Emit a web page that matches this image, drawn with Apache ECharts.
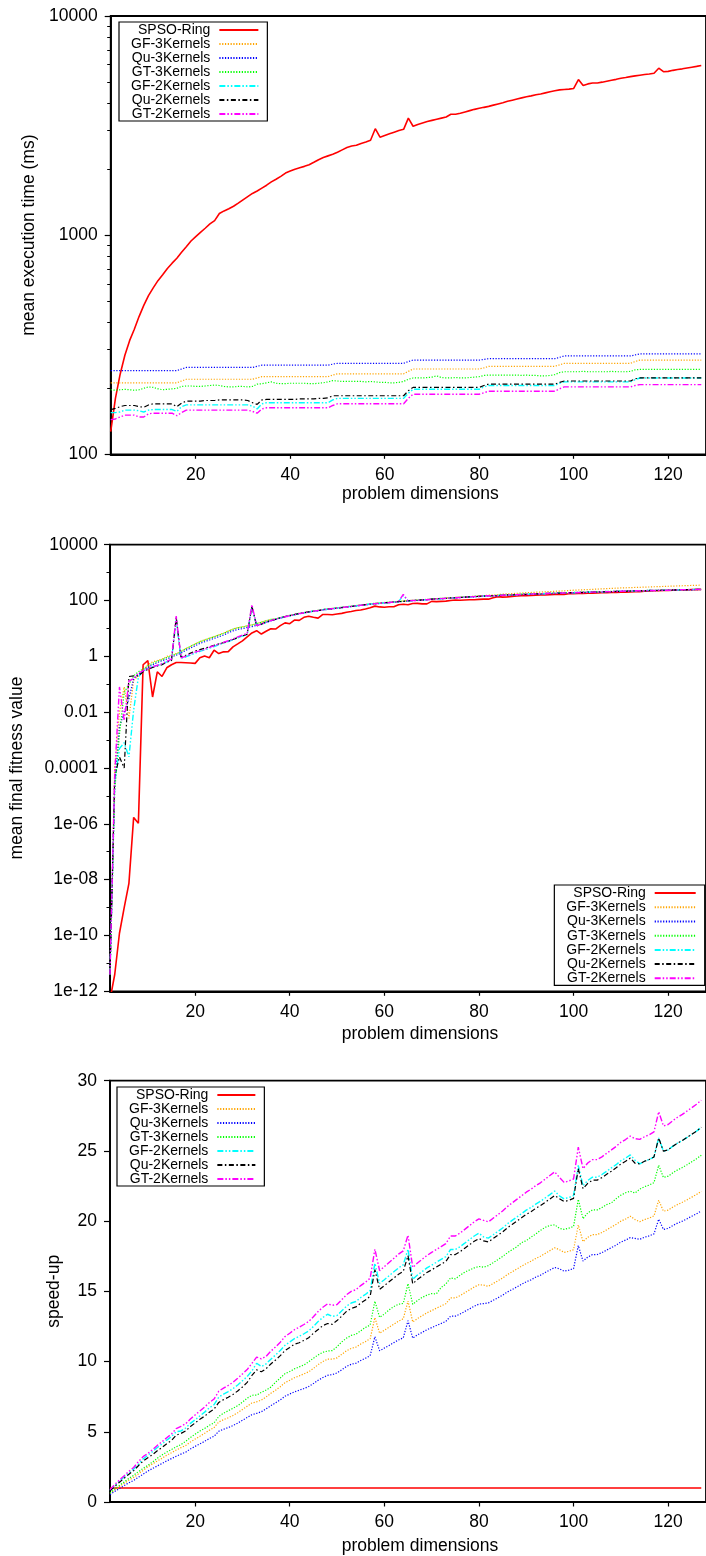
<!DOCTYPE html>
<html>
<head>
<meta charset="utf-8">
<script src="https://cdn.jsdelivr.net/npm/echarts@6/dist/echarts.min.js"></script>
<style>
  html, body { margin: 0; padding: 0; background: #fff; }
  #chart { width: 706px; height: 1556px; }
</style>
</head>
<body>
<div id="chart"></div>
<script>
// Problem dimensions on the x axis of all three panels
const dims = [2,3,4,5,6,7,8,9,10,11,12,13,14,15,16,17,18,19,20,21,22,23,24,25,26,27,28,29,30,31,32,33,34,35,36,37,38,39,40,41,42,43,44,45,46,47,48,49,50,51,52,53,54,55,56,57,58,59,60,61,62,63,64,65,66,67,68,69,70,71,72,73,74,75,76,77,78,79,80,81,82,83,84,85,86,87,88,89,90,91,92,93,94,95,96,97,98,99,100,101,102,103,104,105,106,107,108,109,110,111,112,113,114,115,116,117,118,119,120,121,122,123,124,125,126,127];

const seriesNames = ['SPSO-Ring','GF-3Kernels','Qu-3Kernels','GT-3Kernels','GF-2Kernels','Qu-2Kernels','GT-2Kernels'];

// Tick values and labels
const xTicks = [20, 40, 60, 80, 100, 120];
const timeTicks = [100, 1000, 10000];
const timeTickLabels = ['100', '1000', '10000'];
const timeMinorTicks = [200,300,400,500,600,700,800,900,2000,3000,4000,5000,6000,7000,8000,9000];
const fitTicks = [1e-12, 1e-10, 1e-8, 1e-6, 1e-4, 1e-2, 1, 100, 10000];
const fitTickLabels = ['1e-12', '1e-10', '1e-08', '1e-06', '0.0001', '0.01', '1', '100', '10000'];
const fitMinorTicks = [1e-11, 1e-9, 1e-7, 1e-5, 1e-3, 0.1, 10, 1000];

// ---- Mean execution time (ms) ----
const ringTime = [
  127,180,232,283,330,372,425,478,530,575,
  620,660,705,745,785,835,885,940,985,1030,
  1075,1125,1165,1255,1290,1320,1355,1400,1450,1500,
  1550,1590,1640,1690,1750,1800,1855,1920,1960,2000,
  2030,2060,2095,2150,2210,2260,2300,2340,2390,2450,
  2510,2550,2570,2620,2660,2710,3060,2800,2850,2900,
  2950,3000,3040,3420,3140,3200,3250,3300,3340,3380,
  3420,3460,3560,3560,3600,3650,3700,3750,3790,3830,
  3870,3920,3970,4020,4080,4130,4180,4230,4280,4320,
  4370,4410,4460,4510,4560,4600,4620,4640,4670,5130,
  4820,4900,4950,4950,4990,5040,5090,5140,5200,5240,
  5290,5330,5370,5410,5440,5480,5780,5570,5590,5650,
  5700,5740,5790,5840,5890,5950];
const gf3Time = [
  212,212,212,212,212,212,212,212,212,212,
  212,212,212,212,212,216,220,220,220,220,
  220,220,220,220,220,220,220,220,220,220,
  220,223,226,226,226,226,226,226,226,226,
  226,226,226,226,226,226,226,230,233,233,
  233,233,233,233,233,233,233,233,233,233,
  233,233,233,239,245,245,245,245,245,245,
  245,245,245,245,245,245,245,245,245,248,
  252,252,252,252,252,252,252,252,252,252,
  252,252,252,252,252,256,260,260,260,260,
  260,260,260,260,260,260,260,260,260,260,
  260,265,269,269,269,269,269,269,269,269,
  269,269,269,269,269,269];
const qu3Time = [
  241,241,241,241,241,241,241,241,241,241,
  241,241,241,241,241,245,249,249,249,249,
  249,249,249,249,249,249,249,249,249,249,
  249,252,255,255,255,255,255,255,255,255,
  255,255,255,255,255,255,255,258,260,260,
  260,260,260,260,260,260,260,260,260,260,
  260,260,260,265,269,269,269,269,269,269,
  269,269,269,269,269,269,269,269,269,271,
  273,273,273,273,273,273,273,273,273,273,
  273,273,273,273,273,277,281,281,281,281,
  281,281,281,281,281,281,281,281,281,281,
  281,284,287,287,287,287,287,287,287,287,
  287,287,287,287,287,287];
const gt3Time = [
  197,196,197,198,197,196,197,200,203,202,
  199,197,198,199,200,204,205,205,204,204,
  205,206,207,206,204,203,203,204,204,203,
  204,209,210,212,214,211,210,210,211,211,
  211,211,210,210,211,212,214,217,216,215,
  215,215,215,215,214,215,214,213,213,212,
  212,213,215,220,223,223,223,224,225,228,
  224,223,223,224,223,223,224,225,226,229,
  230,230,230,230,230,230,230,229,230,229,
  229,228,228,229,231,236,238,238,238,238,
  239,238,238,238,238,238,239,238,238,238,
  239,243,244,244,244,244,244,244,244,244,
  244,244,244,244,244,244];
const gf2Time = [
  155,155,156,159,159,159,158,156,159,160,
  160,160,160,160,157,165,168,168,168,168,
  168,168,168,168,168,168,168,168,168,168,
  166,161,170,172,172,172,172,172,172,172,
  172,172,172,172,172,172,172,177,180,180,
  180,180,180,180,180,180,180,180,180,180,
  180,180,180,190,198,198,198,198,198,198,
  198,198,198,198,198,198,198,198,198,203,
  206,206,206,206,206,206,206,206,206,206,
  206,206,206,206,206,211,214,214,214,214,
  214,214,214,214,214,214,214,214,214,214,
  214,219,223,223,223,223,223,223,223,223,
  223,223,223,223,223,223];
const qu2Time = [
  160,162,165,167,167,167,165,164,168,170,
  170,170,170,170,165,171,175,175,175,175,
  176,176,176,177,177,177,177,177,177,176,
  172,169,177,178,178,178,178,178,178,178,
  179,179,179,179,180,180,181,185,185,185,
  185,185,185,185,185,185,185,185,185,185,
  185,185,185,195,202,202,202,202,202,202,
  202,202,202,202,202,202,202,202,202,206,
  209,209,209,209,209,209,209,209,209,209,
  209,209,209,209,209,213,216,216,216,216,
  216,216,216,216,216,216,216,216,216,216,
  216,221,223,223,223,223,223,223,223,223,
  223,223,223,223,223,223];
const gt2Time = [
  144,145,148,151,151,151,148,148,153,154,
  154,154,154,154,150,155,159,159,159,159,
  159,159,159,159,159,159,159,159,159,159,
  157,154,161,163,163,163,163,163,163,163,
  163,163,163,163,163,163,163,167,170,170,
  170,170,170,170,170,170,170,170,170,170,
  170,170,170,180,188,188,188,188,188,188,
  188,188,188,188,188,188,188,188,188,191,
  194,194,194,194,194,194,194,194,194,194,
  194,194,194,194,194,199,203,203,203,203,
  203,203,203,203,203,203,203,203,203,203,
  203,206,208,208,208,208,208,208,208,208,
  208,208,208,208,208,208];

// ---- Mean final fitness value ----
const ringFit = [
  5e-13,4e-12,1.2e-10,1e-9,7.4e-9,1.7e-6,1.05e-6,0.5,0.7,0.035,
  0.28,0.19,0.39,0.5,0.6,0.6,0.59,0.58,0.56,0.89,
  1.02,0.89,1.66,1.26,1.45,1.48,2.19,2.8,3.6,5.0,
  6.9,8.3,6.3,7.9,9.8,9.5,12.6,15.8,14.8,20,
  19.5,25,27.5,25,23.4,31.6,31.6,30.9,33.1,34.7,
  38,40.7,43.7,45.7,50,55,63,59,57.5,60,
  60,71,74,71,78,79,76,76,93,91,
  93,95,100,105,102,105,107,107,110,112,
  112,126,138,132,135,141,145,148,148,151,
  155,158,158,162,166,170,166,174,174,178,
  178,182,182,186,191,191,195,195,200,200,
  204,209,209,214,214,224,224,229,229,234,
  234,240,240,245,245,251];
const gf3Fit = [
  4e-12,1e-4,0.01,0.08,0.006,0.14,0.2,0.32,0.5,0.63,
  0.71,0.79,1.0,1.12,1.26,1.5,1.9,2.3,2.8,3.4,
  3.9,4.5,5.1,5.9,6.8,8.1,9.5,10.7,11.5,12.5,
  13.4,15,16.8,18.9,21,22,24.5,27,29.5,32,
  34.5,37,39.5,42,44.5,47.5,50,52,54.5,57,
  60,62.5,65.5,68.5,72,75,78.5,81,84,87,
  90,93,96,99,102,105,108,110,114,117,
  120,123,126,129,132,135,138,142,148,151,
  155,158,162,170,173,177,181,185,191,194,
  198,201,205,209,214,218,222,228,234,238,
  242,247,251,257,262,267,272,277,282,286,
  290,294,298,302,306,311,315,320,324,329,
  333,338,342,347,351,355];
const qu3Fit = [
  4e-12,2.5e-5,3e-3,0.01,0.03,0.16,0.22,0.3,0.4,0.5,
  0.6,0.7,0.8,0.95,1.1,1.3,1.64,1.97,2.42,2.9,
  3.34,3.84,4.4,5.06,5.8,7.0,8.2,9.2,9.8,10.8,
  11.6,13,14.5,16.4,18.4,21,23.5,25.8,28.2,31,
  33.2,35.6,38.1,40.9,42.8,45.9,48,50.3,52.6,55.1,
  57.7,60.5,63.3,66.2,69.4,72.6,76,77.8,81.5,83.4,
  87.3,89.4,92.2,95.7,98,100,103,105,110,113,
  115,118,121,124,127,130,133,136,139,142,
  145,145,148,152,155,155,159,163,163,167,
  170,170,174,178,178,182,182,187,187,191,
  191,196,196,200,200,205,205,210,210,215,
  215,220,220,220,224,224,229,229,229,235,
  235,240,240,240,246,246];
const gt3Fit = [
  4e-12,1.6e-5,1.6e-3,0.05,0.1,0.2,0.28,0.35,0.45,0.56,
  0.66,0.76,0.9,1.05,1.2,1.48,1.87,2.25,2.76,3.3,
  3.8,4.4,5.0,5.8,6.6,8.0,9.4,10.5,11.2,12.3,
  13.2,14.8,16.6,18.7,21,21.8,24.5,26.8,29.4,32.2,
  34.6,37,39.7,42.5,44.6,47.7,50,52.3,54.8,57.3,
  60,62.9,65.9,69,72.2,75.6,79.2,81,84.9,86.8,
  90.9,93,95.9,99.6,102,104,107,109,114,117,
  119,122,125,128,131,134,137,140,143,147,
  150,150,154,158,161,161,165,169,169,173,
  177,177,181,185,185,189,189,194,194,198,
  198,203,203,207,207,212,212,217,217,222,
  222,227,227,227,232,232,237,237,237,243,
  243,248,248,248,254,254];
const gf2Fit = [
  4e-12,3e-5,5e-4,8e-4,2.5e-4,0.012,0.18,0.3,0.36,0.42,
  0.47,0.53,0.64,0.75,20,0.85,0.95,1.12,1.3,1.5,
  1.7,1.95,2.25,2.6,3.0,3.4,3.9,4.6,5.3,6.1,
  56,12.9,13.9,16.4,19.4,21.6,23.7,26.5,29.1,31.2,
  33.6,36.8,38.5,42.1,43.3,47.2,48.6,51.8,53.2,56.8,
  58.4,62.3,64,68.2,70.1,74.7,77,80.1,82.5,85.8,
  88.3,92,150,98.5,99.2,103,104.2,108,111,116,
  116,121,122,127,128,133,134,139,140,146,
  147,149,150,156,157,159,161,167,165,171,
  173,175,177,183,181,187,185,192,190,196,
  194,201,199,205,203,210,208,215,213,220,
  218,225,223,225,228,230,233,235,233,241,
  239,246,244,246,250,252];
const qu2Fit = [
  4e-12,5e-5,2.5e-4,1e-4,0.19,0.2,0.2,0.28,0.34,0.4,
  0.45,0.5,0.62,0.7,25,0.95,1.1,1.3,1.55,1.75,
  1.95,2.2,2.5,2.8,3.1,3.5,4.0,4.7,5.4,6.2,
  63,12.3,14.3,16.9,19.1,21.1,24.2,26.6,28.5,31.3,
  34.2,36,39.3,41.3,44,46.5,49.5,51,54,55.8,
  59.3,61.2,65,67.1,71.2,73.6,78,79,83.6,84.6,
  89.5,90.7,93.3,97.2,100.5,101.5,105.5,106.5,112.5,114.5,
  117.5,119.5,123.5,125.5,129.5,131.5,135.5,137.5,141.5,144.5,
  148.5,147.5,151.5,154.5,158.5,157.5,162.5,165.5,166.5,169.5,
  174.5,173.5,178.5,181.5,182.5,185.5,186.5,190.5,191.5,194.5,
  195.5,199.5,200.5,203.5,204.5,208.5,209.5,213.5,214.5,218.5,
  219.5,223.5,224.5,223.5,229.5,228.5,234.5,233.5,234.5,239.5,
  240.5,244.5,245.5,244.5,251.5,250.5];
const gt2Fit = [
  4e-12,6e-5,0.08,0.005,0.13,0.16,0.25,0.3,0.36,0.42,
  0.48,0.55,0.66,0.8,28,0.89,1.0,1.2,1.41,1.58,
  1.78,2.09,2.4,2.75,3.16,3.63,4.17,5.0,5.75,6.6,
  71,12.6,14.1,16.6,19.1,21.4,24,26.3,28.8,31.6,
  33.9,36.3,38.9,41.7,43.7,46.8,49,51.3,53.7,56.2,
  58.9,61.7,64.6,67.6,70.8,74.1,77.6,79.4,83.2,85.1,
  89.1,91.2,166,97.7,100,102,105,107,112,115,
  117,120,123,126,129,132,135,138,141,145,
  148,148,151,155,158,158,162,166,166,170,
  174,174,178,182,182,186,186,191,191,195,
  195,200,200,204,204,209,209,214,214,219,
  219,224,224,224,229,229,234,234,234,240,
  240,245,245,245,251,251];

// ---- Speed-up ----
const ringSpeed = [
  1,1,1,1,1,1,1,1,1,1, 1,1,1,1,1,1,1,1,1,1, 1,1,1,1,1,1,1,1,1,1,
  1,1,1,1,1,1,1,1,1,1, 1,1,1,1,1,1,1,1,1,1, 1,1,1,1,1,1,1,1,1,1,
  1,1,1,1,1,1,1,1,1,1, 1,1,1,1,1,1,1,1,1,1, 1,1,1,1,1,1,1,1,1,1,
  1,1,1,1,1,1,1,1,1,1, 1,1,1,1,1,1,1,1,1,1, 1,1,1,1,1,1,1,1,1,1,
  1,1,1,1,1,1];
const gf3Speed = [
  0.60,0.85,1.09,1.33,1.56,1.75,2.00,2.25,2.50,2.71,
  2.92,3.11,3.33,3.51,3.70,3.87,4.02,4.27,4.48,4.68,
  4.89,5.11,5.30,5.70,5.86,6.00,6.16,6.36,6.59,6.82,
  7.05,7.13,7.26,7.48,7.74,7.96,8.21,8.50,8.67,8.85,
  8.98,9.12,9.27,9.51,9.78,10.00,10.18,10.17,10.26,10.52,
  10.77,10.94,11.03,11.25,11.42,11.63,13.13,12.02,12.23,12.45,
  12.66,12.88,13.05,14.31,12.82,13.06,13.27,13.47,13.63,13.80,
  13.96,14.12,14.53,14.53,14.69,14.90,15.10,15.31,15.47,15.44,
  15.36,15.56,15.75,15.95,16.19,16.39,16.59,16.79,16.98,17.14,
  17.34,17.50,17.70,17.90,18.10,17.97,17.77,17.85,17.96,19.73,
  18.54,18.85,19.04,19.04,19.19,19.38,19.58,19.77,20.00,20.15,
  20.35,20.11,19.96,20.11,20.22,20.37,21.49,20.71,20.78,21.00,
  21.19,21.34,21.52,21.71,21.90,22.12];
const qu3Speed = [
  0.53,0.75,0.96,1.17,1.37,1.54,1.76,1.98,2.20,2.39,
  2.57,2.74,2.93,3.09,3.26,3.41,3.55,3.78,3.96,4.14,
  4.32,4.52,4.68,5.04,5.18,5.30,5.44,5.62,5.82,6.02,
  6.22,6.31,6.43,6.63,6.86,7.06,7.27,7.53,7.69,7.84,
  7.96,8.08,8.22,8.43,8.67,8.86,9.02,9.07,9.19,9.42,
  9.65,9.81,9.88,10.08,10.23,10.42,11.77,10.77,10.96,11.15,
  11.35,11.54,11.69,12.91,11.67,11.90,12.08,12.27,12.42,12.57,
  12.71,12.86,13.23,13.23,13.38,13.57,13.75,13.94,14.09,14.13,
  14.18,14.36,14.54,14.73,14.95,15.13,15.31,15.50,15.68,15.82,
  16.01,16.15,16.34,16.52,16.70,16.61,16.44,16.51,16.62,18.26,
  17.15,17.44,17.62,17.62,17.76,17.94,18.11,18.29,18.51,18.65,
  18.83,18.77,18.71,18.85,18.95,19.09,20.14,19.41,19.48,19.69,
  19.86,20.00,20.17,20.35,20.52,20.73];
const gt3Speed = [
  0.64,0.92,1.18,1.43,1.68,1.90,2.16,2.39,2.61,2.85,
  3.12,3.35,3.56,3.74,3.93,4.09,4.32,4.59,4.83,5.05,
  5.24,5.46,5.63,6.09,6.32,6.50,6.67,6.86,7.11,7.39,
  7.60,7.61,7.81,7.97,8.18,8.53,8.83,9.14,9.29,9.48,
  9.62,9.76,9.98,10.24,10.47,10.66,10.75,10.78,11.06,11.40,
  11.67,11.86,11.95,12.19,12.43,12.60,14.30,13.15,13.38,13.68,
  13.92,14.08,14.14,15.55,14.08,14.35,14.57,14.73,14.84,14.82,
  15.27,15.52,15.96,15.89,16.14,16.37,16.52,16.67,16.77,16.72,
  16.83,17.04,17.26,17.48,17.74,17.96,18.17,18.47,18.61,18.86,
  19.08,19.34,19.56,19.69,19.74,19.49,19.41,19.50,19.62,21.55,
  20.17,20.59,20.80,20.80,20.97,21.18,21.30,21.60,21.85,22.02,
  22.13,22.00,22.28,22.45,22.57,22.74,23.98,23.11,23.20,23.44,
  23.65,23.82,24.02,24.23,24.44,24.69];
const gf2Speed = [
  0.82,1.16,1.49,1.78,2.08,2.34,2.69,3.06,3.33,3.59,
  3.88,4.13,4.41,4.66,5.00,5.06,5.27,5.60,5.86,6.13,
  6.40,6.70,6.93,7.47,7.68,7.86,8.07,8.33,8.63,8.93,
  9.34,9.88,9.65,9.83,10.17,10.47,10.79,11.16,11.40,11.63,
  11.80,11.98,12.18,12.50,12.85,13.14,13.37,13.22,13.28,13.61,
  13.94,14.17,14.28,14.56,14.78,15.06,17.00,15.56,15.83,16.11,
  16.39,16.67,16.89,18.00,15.86,16.16,16.41,16.67,16.87,17.07,
  17.27,17.47,17.98,17.98,18.18,18.43,18.69,18.94,19.14,18.87,
  18.79,19.03,19.27,19.51,19.81,20.05,20.29,20.53,20.78,20.97,
  21.21,21.41,21.65,21.89,22.14,21.80,21.59,21.68,21.82,23.97,
  22.52,22.90,23.13,23.13,23.32,23.55,23.79,24.02,24.30,24.49,
  24.72,24.34,24.08,24.26,24.39,24.57,25.92,24.98,25.07,25.34,
  25.56,25.74,25.96,26.19,26.41,26.68];
const qu2Speed = [
  0.79,1.11,1.41,1.69,1.98,2.23,2.58,2.91,3.15,3.38,
  3.65,3.88,4.15,4.38,4.76,4.88,5.06,5.37,5.63,5.89,
  6.11,6.39,6.62,7.09,7.29,7.46,7.66,7.91,8.19,8.52,
  9.01,9.41,9.27,9.49,9.83,10.11,10.42,10.79,11.01,11.24,
  11.34,11.51,11.70,12.01,12.28,12.56,12.71,12.65,12.92,13.24,
  13.57,13.78,13.89,14.16,14.38,14.65,16.54,15.14,15.41,15.68,
  15.95,16.22,16.43,17.54,15.54,15.84,16.09,16.34,16.53,16.73,
  16.93,17.13,17.62,17.62,17.82,18.07,18.32,18.56,18.76,18.59,
  18.52,18.76,19.00,19.23,19.52,19.76,20.00,20.24,20.48,20.67,
  20.91,21.10,21.34,21.58,21.82,21.60,21.39,21.48,21.62,23.75,
  22.31,22.69,22.92,22.92,23.10,23.33,23.56,23.80,24.07,24.26,
  24.49,24.12,24.08,24.26,24.39,24.57,25.92,24.98,25.07,25.34,
  25.56,25.74,25.96,26.19,26.41,26.68];
const gt2Speed = [
  0.88,1.24,1.57,1.87,2.19,2.46,2.87,3.23,3.46,3.73,
  4.03,4.29,4.58,4.84,5.23,5.39,5.57,5.91,6.20,6.48,
  6.76,7.08,7.33,7.89,8.11,8.30,8.52,8.81,9.12,9.43,
  9.87,10.32,10.19,10.37,10.74,11.04,11.38,11.78,12.02,12.27,
  12.45,12.64,12.85,13.19,13.56,13.87,14.11,14.01,14.06,14.41,
  14.76,15.00,15.12,15.41,15.65,15.94,18.00,16.47,16.76,17.06,
  17.35,17.65,17.88,19.00,16.70,17.02,17.29,17.55,17.77,17.98,
  18.19,18.40,18.94,18.94,19.15,19.41,19.68,19.95,20.16,20.05,
  19.95,20.21,20.46,20.72,21.03,21.29,21.55,21.80,22.06,22.27,
  22.53,22.73,22.99,23.25,23.51,23.12,22.76,22.86,23.00,25.27,
  23.74,24.14,24.38,24.38,24.58,24.83,25.07,25.32,25.62,25.81,
  26.06,25.87,25.82,26.01,26.15,26.35,27.79,26.78,26.88,27.16,
  27.40,27.60,27.84,28.08,28.32,28.61];

// ---- Styling ----
const FONT = "'Liberation Sans', Arial, Helvetica, sans-serif";
const FS = 17.5;
const lineLook = [
  { color: '#ff0000', width: 1.6, type: 'solid' },
  { color: '#ffa500', width: 1.2, type: [1.2, 1.6] },
  { color: '#0000ff', width: 1.2, type: [1.2, 1.6] },
  { color: '#00ff00', width: 1.2, type: [1.2, 1.6] },
  { color: '#00ffff', width: 1.4, type: [6, 2, 1.5, 2, 1.5, 2] },
  { color: '#000000', width: 1.2, type: [5, 2.5, 1.5, 2.5] },
  { color: '#ff00ff', width: 1.4, type: [6, 2, 1.5, 2, 1.5, 2] }
];

const panels = [
  { grid: { left: 110.7, top: 16, width: 601.7, height: 438.3 },
    values: [ringTime, gf3Time, qu3Time, gt3Time, gf2Time, qu2Time, gt2Time] },
  { grid: { left: 109.9, top: 544.7, width: 602.6, height: 446.6 },
    values: [ringFit, gf3Fit, qu3Fit, gt3Fit, gf2Fit, qu2Fit, gt2Fit] },
  { grid: { left: 110, top: 1080.7, width: 601.4, height: 421.3 },
    values: [ringSpeed, gf3Speed, qu3Speed, gt3Speed, gf2Speed, qu2Speed, gt2Speed] }
];

const axisBlack = { color: '#000', width: 1.8 };
const labelText = { fontSize: FS, color: '#000', fontFamily: FONT };
const nameText = { fontSize: FS, color: '#000', fontFamily: FONT };

function xAxisFor(gi, labelMargin, nameGap) {
  return {
    type: 'value', gridIndex: gi, min: 2, max: 128,
    name: 'problem dimensions', nameLocation: 'middle', nameGap: nameGap,
    nameTextStyle: Object.assign({ padding: [0, 0, 0, 24] }, nameText),
    axisLine: { onZero: false, lineStyle: axisBlack },
    axisTick: { length: 4.5, customValues: xTicks, lineStyle: { color: '#000', width: 1.2 } },
    axisLabel: Object.assign({ customValues: xTicks, margin: labelMargin }, labelText),
    splitLine: { show: false }
  };
}

function labelFrom(values, labels) {
  return function (v) {
    let best = 0;
    for (let i = 1; i < values.length; i++) {
      if (Math.abs(Math.log10(values[i]) - Math.log10(v)) < Math.abs(Math.log10(values[best]) - Math.log10(v))) best = i;
    }
    return labels[best];
  };
}

function minorAxis(gi, min, max, ticks) {
  return {
    type: 'log', gridIndex: gi, position: 'left', min: min, max: max, logBase: 10,
    axisLine: { show: false }, axisLabel: { show: false }, splitLine: { show: false },
    axisTick: { show: true, length: 3.5, customValues: ticks, lineStyle: { color: '#000', width: 1 } }
  };
}

const yAxes = [
  { type: 'log', gridIndex: 0, position: 'left', min: 100, max: 10000, logBase: 10,
    name: 'mean execution time (ms)', nameLocation: 'middle', nameGap: 71,
    nameTextStyle: nameText,
    axisLine: { show: true, lineStyle: axisBlack },
    axisTick: { length: 6, customValues: timeTicks, lineStyle: { color: '#000', width: 1.2 } },
    axisLabel: Object.assign({ customValues: timeTicks, margin: 13, formatter: labelFrom(timeTicks, timeTickLabels) }, labelText),
    splitLine: { show: false } },
  minorAxis(0, 100, 10000, timeMinorTicks),
  { type: 'log', gridIndex: 1, position: 'left', min: 1e-12, max: 10000, logBase: 10,
    name: 'mean final fitness value', nameLocation: 'middle', nameGap: 84,
    nameTextStyle: nameText,
    axisLine: { show: true, lineStyle: axisBlack },
    axisTick: { length: 6, customValues: fitTicks, lineStyle: { color: '#000', width: 1.2 } },
    axisLabel: Object.assign({ customValues: fitTicks, margin: 12, formatter: labelFrom(fitTicks, fitTickLabels) }, labelText),
    splitLine: { show: false } },
  minorAxis(1, 1e-12, 10000, fitMinorTicks),
  { type: 'value', gridIndex: 2, position: 'left', min: 0, max: 30, interval: 5,
    name: 'speed-up', nameLocation: 'middle', nameGap: 47,
    nameTextStyle: nameText,
    axisLine: { show: true, onZero: false, lineStyle: axisBlack },
    axisTick: { length: 6, lineStyle: { color: '#000', width: 1.2 } },
    axisLabel: Object.assign({ margin: 13 }, labelText),
    splitLine: { show: false } }
];
const yMain = [0, 2, 4];

const series = [];
panels.forEach(function (p, gi) {
  seriesNames.forEach(function (name, k) {
    const vals = p.values[k];
    series.push({
      type: 'line', name: name, xAxisIndex: gi, yAxisIndex: yMain[gi],
      data: dims.map(function (d, i) { return [d, vals[i]]; }),
      symbol: 'none', showSymbol: false, silent: true, clip: true,
      color: lineLook[k].color,
      lineStyle: { color: lineLook[k].color, width: lineLook[k].width, type: lineLook[k].type }
    });
  });
});

function legendAt(pos, rowH, iconW) {
  return Object.assign({
    data: seriesNames, orient: 'vertical', align: 'right', selectedMode: false,
    itemGap: 0, itemWidth: iconW, itemHeight: 10,
    padding: [1, 8, 0, 12],
    backgroundColor: '#fff', borderColor: '#000', borderWidth: 1.2, borderRadius: 0,
    itemStyle: { opacity: 0 },
    textStyle: { fontSize: 14, color: '#000', fontFamily: FONT, lineHeight: rowH, padding: [0, 4, 0, 0] }
  }, pos);
}

const chart = echarts.init(document.getElementById('chart'), null, { renderer: 'canvas' });
chart.setOption({
  animation: false,
  backgroundColor: '#fff',
  grid: panels.map(function (p) {
    return Object.assign({ show: true, borderColor: '#000', borderWidth: 1.8, backgroundColor: 'transparent', containLabel: false }, p.grid);
  }),
  xAxis: [xAxisFor(0, 12, 31), xAxisFor(1, 12, 34), xAxisFor(2, 11, 35)],
  yAxis: yAxes,
  legend: [
    legendAt({ left: 119, top: 22 }, 14, 39),
    legendAt({ right: 1.3, top: 885 }, 14.2, 41),
    legendAt({ left: 117, top: 1087 }, 13.4, 38)
  ],
  series: series
});
</script>
</body>
</html>
